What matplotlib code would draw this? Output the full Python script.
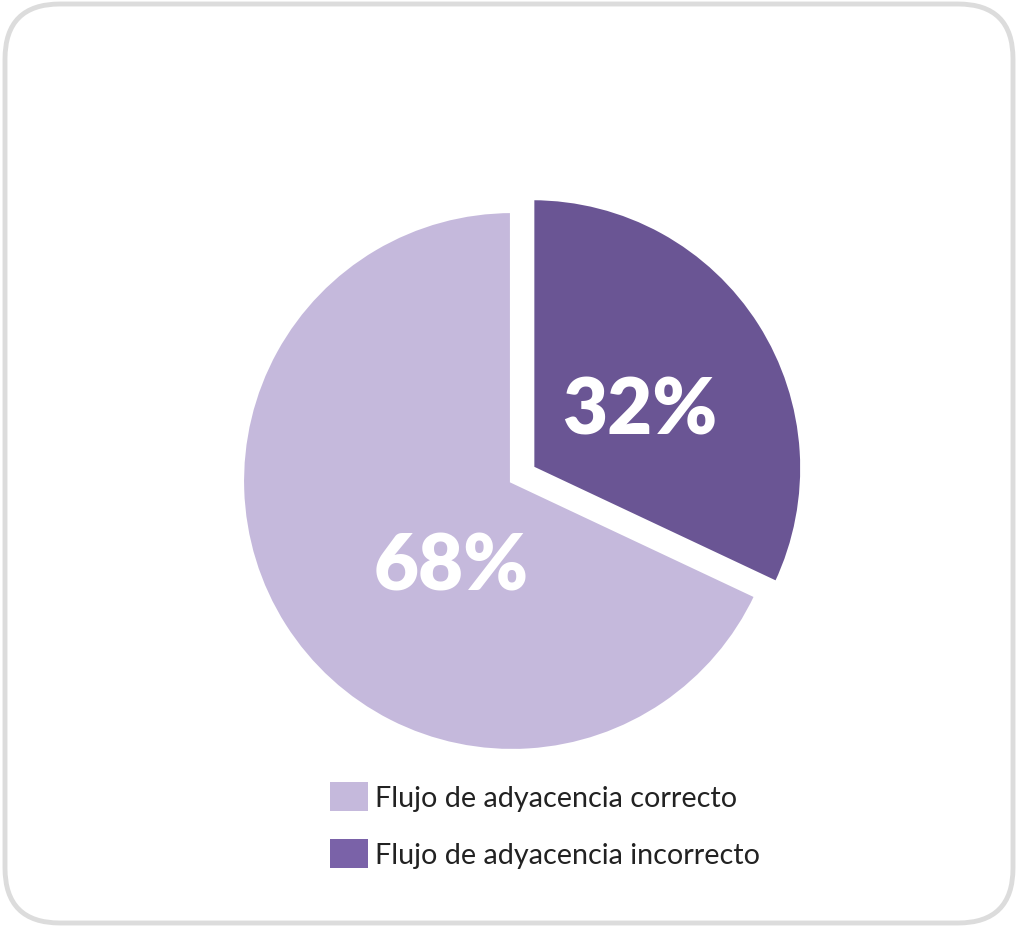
import numpy as np
import matplotlib
matplotlib.use("Agg")
import matplotlib.pyplot as plt
from matplotlib.patches import FancyBboxPatch, Patch

etiquetas = ["Flujo de adyacencia correcto", "Flujo de adyacencia incorrecto"]
valores = [68, 32]
colores_pie = ["#c5b9dc", "#6a5594"]
colores_leyenda = ["#c5b9dc", "#7a62a8"]

plt.rcParams['font.family'] = ['Lato', 'DejaVu Sans']

W, H = 1018, 929
fig = plt.figure(figsize=(W / 100, H / 100), dpi=100)
ax = fig.add_axes([0, 0, 1, 1])
ax.set_xlim(0, W)
ax.set_ylim(0, H)
ax.axis("off")

# cadre arrondi
cadre = FancyBboxPatch((5, 5), W - 10, H - 10, boxstyle="round,pad=0,rounding_size=55",
                       facecolor="white", edgecolor="#dcdcdc", linewidth=3.5)
ax.add_patch(cadre)

rayon = 270
centre = (512, H - 482)
# explode en unites de donnees (pixels ici)
wedges, _ = ax.pie(valores, colors=colores_pie, startangle=90, counterclock=True,
                   center=centre, radius=rayon, explode=[0, 24],
                   wedgeprops=dict(edgecolor="white", linewidth=3))
ax.set_xlim(0, W)
ax.set_ylim(0, H)
ax.set_aspect("equal")

# pourcentages a l'interieur (distance, decalage d'angle)
distances = [0.39, 0.45]
decalages = [22, -4.5]
for w, v, d, da in zip(wedges, valores, distances, decalages):
    ang = np.deg2rad((w.theta1 + w.theta2) / 2 + da)
    cx, cy = w.center
    ax.text(cx + d * rayon * np.cos(ang), cy + d * rayon * np.sin(ang), f"{v}%",
            ha="center", va="center", color="white", fontsize=56, fontweight="heavy")

poignees = [Patch(facecolor=c, edgecolor="none") for c in colores_leyenda]
ax.legend(poignees, etiquetas, loc="upper left", bbox_to_anchor=(330 / W, 1 - 783 / H),
          frameon=False, fontsize=20.7, handlelength=1.33, handleheight=1.18,
          handletextpad=0.22, labelspacing=0.95, borderpad=0, borderaxespad=0,
          labelcolor="#222222")

fig.savefig("out.png", dpi=100, facecolor="white")
